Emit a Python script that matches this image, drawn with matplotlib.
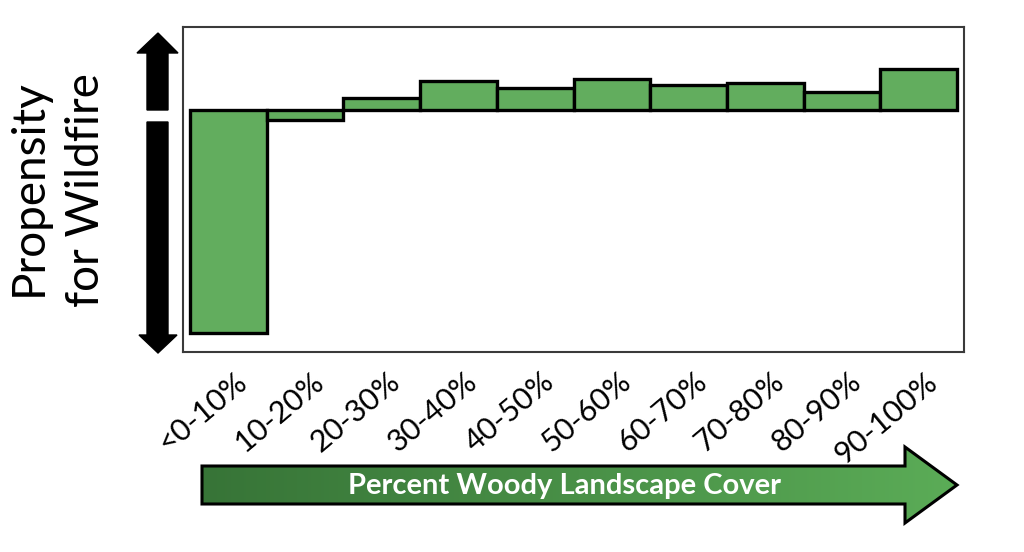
import numpy as np
import matplotlib
matplotlib.use("Agg")
from matplotlib import pyplot as plt
from matplotlib.patches import Polygon
from matplotlib.colors import LinearSegmentedColormap
from matplotlib.transforms import ScaledTranslation

# Data (relative propensity, baseline at 0)
categories = ["<0-10%", "10-20%", "20-30%", "30-40%", "40-50%",
              "50-60%", "60-70%", "70-80%", "80-90%", "90-100%"]
propensity = [-223, -10, 12, 29, 22, 31, 25, 27, 18, 41]

bar_color = "#62ad5e"
font = "Lato"

fig = plt.figure(figsize=(10.24, 5.52), dpi=100)

# overlay in pixel coordinates for the decorative arrows / labels
deco = fig.add_axes([0, 0, 1, 1], zorder=0)
deco.set_xlim(0, 1024)
deco.set_ylim(552, 0)
deco.axis("off")

ax = fig.add_axes([183 / 1024, 200 / 552, 781 / 1024, 325 / 552], zorder=1)
ax.patch.set_alpha(0)

x = np.arange(len(categories))
ax.bar(x, propensity, width=1.0, color=bar_color, edgecolor="black",
       linewidth=2.4, zorder=2)
ax.set_xlim(-0.59, 9.59)
ax.set_ylim(-242, 83)
ax.set_yticks([])
ax.set_xticks(x)
ax.set_xticklabels(categories, rotation=40, ha="right", rotation_mode="anchor",
                   fontsize=22, family=font)
ax.tick_params(axis="x", length=0, pad=11)
offset = ScaledTranslation(6 / 100, 0, fig.dpi_scale_trans)
for lab in ax.get_xticklabels():
    lab.set_transform(lab.get_transform() + offset)
for s in ax.spines.values():
    s.set_color("#3a3a3a")
    s.set_linewidth(1.5)

# vertical arrows (up = more, down = less)
up = Polygon([(147, 110), (147, 53), (137, 53), (158, 33), (178, 53),
              (168, 53), (168, 110)], closed=True, color="black")
down = Polygon([(147, 122), (147, 335), (139, 335), (158, 353), (177, 335),
                (168, 335), (168, 122)], closed=True, color="black")
deco.add_patch(up)
deco.add_patch(down)

deco.text(29, 188, "Propensity", rotation=90, ha="center", va="center",
          fontsize=33, family=font)
deco.text(86, 190, "for Wildfire", rotation=90, ha="center", va="center",
          fontsize=33, family=font)

# horizontal gradient arrow
pts = [(202, 466), (905, 466), (905, 447), (957, 485), (905, 523),
       (905, 504), (202, 504)]
arrow = Polygon(pts, closed=True, facecolor="none", edgecolor="black",
                linewidth=2.2, zorder=3)
deco.add_patch(arrow)
cmap = LinearSegmentedColormap.from_list("woody", ["#377437", "#5bac57"])
grad = np.linspace(0, 1, 256).reshape(1, -1)
img = deco.imshow(grad, cmap=cmap, extent=[202, 957, 523, 447],
                  aspect="auto", zorder=2)
img.set_clip_path(arrow)
deco.set_xlim(0, 1024)
deco.set_ylim(552, 0)
deco.text(565, 486, "Percent Woody Landscape Cover", color="white",
          ha="center", va="center", fontsize=21, fontweight="bold",
          family=font, zorder=4)

fig.savefig("out.png", dpi=100)
